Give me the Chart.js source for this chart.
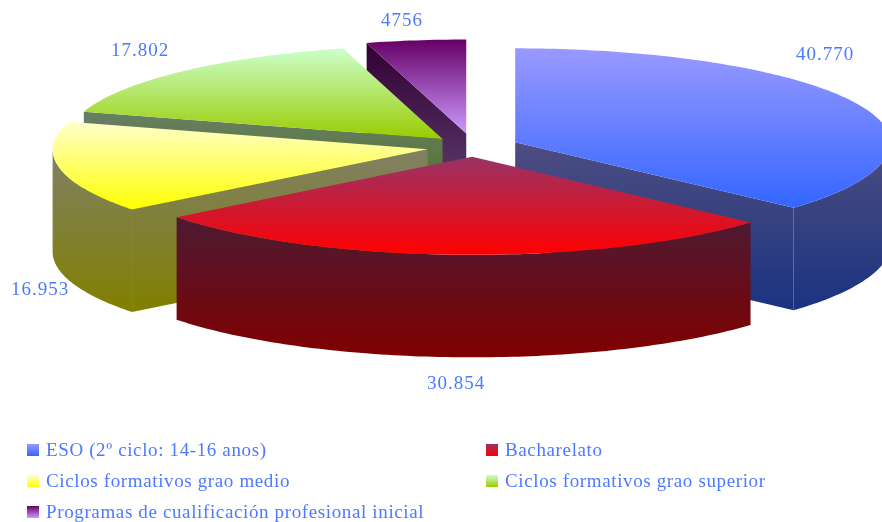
<!DOCTYPE html>
<html>
<head>
<meta charset="utf-8">
<title>Alumnado</title>
<script src="https://cdn.jsdelivr.net/npm/chart.js@4/dist/chart.umd.min.js"></script>
<style>
html, body { margin: 0; padding: 0; background: #fff; }
canvas { display: block; }
</style>
</head>
<body>
<canvas id="pieChart" width="882" height="522"></canvas>
<script>
// data
const categories = ['ESO (2º ciclo: 14-16 anos)', 'Bacharelato', 'Ciclos formativos grao medio', 'Ciclos formativos grao superior', 'Programas de cualificación profesional inicial'];
const values = [40770, 30854, 16953, 17802, 4756];
const valueLabels = ['40.770', '30.854', '16.953', '17.802', '4756'];

// styles, one per slice
const explode = [29.6, 24.5, 30.3, 28.8, 35.2];
const colorTop = ['#9999ff', '#993366', '#ffffcc', '#ccffcc', '#660066'];
const colorBottom = ['#3366ff', '#ff0000', '#ffff00', '#99cc00', '#cc99ff'];
const labelSpots = [[796, 60], [427, 389], [11, 295], [111, 56], [381, 26]];
const legendSpots = [[27, 456], [486, 456], [27, 487], [486, 487], [27, 518]];

// flat 3d view of the pie
const view = { cx: 473.5, cy: 147, rx: 375, ryBack: 94, ryFront: 98, depth: 102.5 };
const textColor = '#4d79ff';

function halfColor(hex) {
    const n = parseInt(hex.slice(1), 16);
    const r = (n >> 16) & 255, g = (n >> 8) & 255, b = n & 255;
    return 'rgb(' + Math.round(r / 2) + ',' + Math.round(g / 2) + ',' + Math.round(b / 2) + ')';
}

const pie3d = {
    id: 'pie3d',
    beforeDatasetDraw(chart) {
        const ctx = chart.ctx;
        const arcs = chart.getDatasetMeta(0).data;

        const project = (arc, dx, dy) => {
            const v = dy / arc.outerRadius;
            return {
                x: view.cx + dx / arc.outerRadius * view.rx,
                y: view.cy + v * (v < 0 ? view.ryBack : view.ryFront)
            };
        };

        // each polygon carries its gradient over its own height
        const fillPoly = (pts, c0, c1) => {
            const ys = pts.map(p => p.y);
            const g = ctx.createLinearGradient(0, Math.min(...ys), 0, Math.max(...ys));
            g.addColorStop(0, c0);
            g.addColorStop(1, c1);
            ctx.fillStyle = g;
            ctx.beginPath();
            pts.forEach((p, n) => n ? ctx.lineTo(p.x, p.y) : ctx.moveTo(p.x, p.y));
            ctx.closePath();
            ctx.fill();
        };

        const slices = arcs.map((arc, i) => {
            const mid = (arc.startAngle + arc.endAngle) / 2;
            const off = arc.options.offset;
            const ox = (arc.x - chart.width / 2) + Math.cos(mid) * off;
            const oy = (arc.y - chart.height / 2) + Math.sin(mid) * off;
            const apex = project(arc, ox, oy);
            const rim = [];
            const steps = Math.ceil((arc.endAngle - arc.startAngle) / (Math.PI / 180));
            for (let s = 0; s <= steps; s++) {
                const a = arc.startAngle + (arc.endAngle - arc.startAngle) * s / steps;
                rim.push(Object.assign(project(arc, ox + Math.cos(a) * arc.outerRadius, oy + Math.sin(a) * arc.outerRadius), { a }));
            }
            return { i, mid, apex, rim };
        });

        // back slices first
        slices.sort((a, b) => Math.sin(a.mid) - Math.sin(b.mid));

        slices.forEach(s => {
            const d = view.depth;
            const dark0 = halfColor(colorTop[s.i]), dark1 = halfColor(colorBottom[s.i]);
            const drop = p => ({ x: p.x, y: p.y + d });

            const first = s.rim[0], last = s.rim[s.rim.length - 1];
            // canvas angles: cut faces turned to the viewer only
            if (Math.cos(first.a) < -1e-6) fillPoly([s.apex, first, drop(first), drop(s.apex)], dark0, dark1);
            if (Math.cos(last.a) > 1e-6) fillPoly([s.apex, last, drop(last), drop(s.apex)], dark0, dark1);

            // outer wall, front half of the rim only
            const front = s.rim.filter(p => Math.sin(p.a) > -0.001);
            if (front.length > 1) {
                fillPoly(front.concat(front.slice().reverse().map(drop)), dark0, dark1);
            }

            // top face
            fillPoly([s.apex].concat(s.rim), colorTop[s.i], colorBottom[s.i]);
        });

        return false;
    },
    afterDraw(chart) {
        const ctx = chart.ctx;
        ctx.save();
        ctx.font = '19px "Liberation Serif"';
        ctx.letterSpacing = '1px';
        ctx.fillStyle = textColor;
        ctx.textBaseline = 'alphabetic';
        valueLabels.forEach((t, i) => ctx.fillText(t, labelSpots[i][0], labelSpots[i][1]));

        ctx.letterSpacing = '0.63px';
        categories.forEach((t, i) => {
            const [x, y] = legendSpots[i];
            const g = ctx.createLinearGradient(0, y - 12, 0, y);
            g.addColorStop(0, colorTop[i]);
            g.addColorStop(1, colorBottom[i]);
            ctx.fillStyle = g;
            ctx.fillRect(x, y - 12, 12, 12);
            ctx.fillStyle = textColor;
            ctx.fillText(t, x + 19, y);
        });
        ctx.restore();
    }
};

const pieChart = new Chart(document.getElementById('pieChart').getContext('2d'), {
    type: 'pie',
    data: {
        labels: categories,
        datasets: [{
            data: values,
            offset: explode,
            hoverOffset: 0,
            borderWidth: 0,
            backgroundColor: colorBottom
        }]
    },
    options: {
        responsive: false,
        animation: false,
        events: [],
        plugins: {
            legend: { display: false },
            tooltip: { enabled: false }
        }
    },
    plugins: [pie3d]
});
</script>
</body>
</html>
